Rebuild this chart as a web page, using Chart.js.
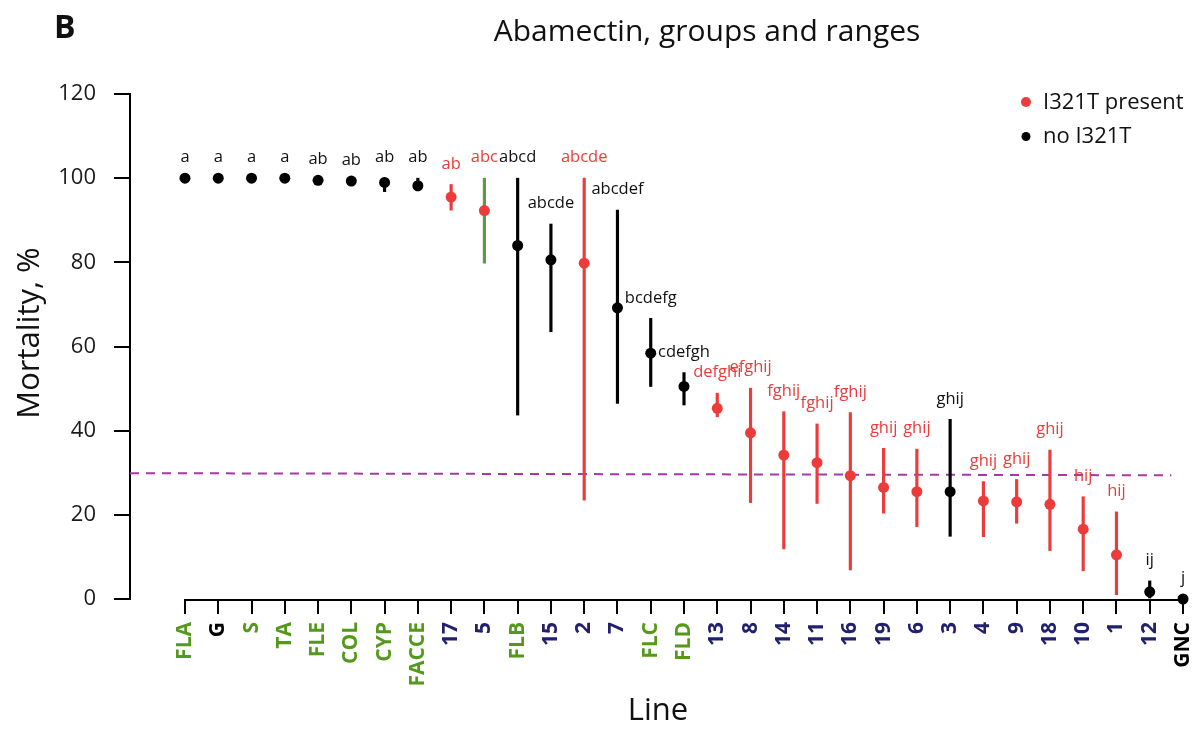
<!DOCTYPE html>
<html>
<head>
<meta charset="utf-8">
<title>Abamectin, groups and ranges</title>
<script src="https://cdn.jsdelivr.net/npm/chart.js@4.4.1/dist/chart.umd.min.js"></script>
<style>
  html, body { margin: 0; padding: 0; background: #fff; }
</style>
</head>
<body>
<canvas id="grafico" width="1194" height="736"></canvas>
<script>
// Linhas testadas, na ordem do eixo X
const categories = ['FLA', 'G', 'S', 'TA', 'FLE', 'COL', 'CYP', 'FACCE', '17', '5', 'FLB', '15', '2', '7',
  'FLC', 'FLD', '13', '8', '14', '11', '16', '19', '6', '3', '4', '9', '18', '10', '1', '12', 'GNC'];

// Mortalidade média (%)
const mortality = [100, 100, 100, 100, 99.5, 99.3, 99.0, 98.2, 95.5, 92.3, 84.0, 80.6, 79.8, 69.2,
  58.4, 50.5, 45.3, 39.5, 34.2, 32.4, 29.3, 26.5, 25.5, 25.5, 23.3, 23.1, 22.5, 16.6, 10.5, 1.7, 0];

// Intervalo (mínimo / máximo); null = sem intervalo
const lower = [null, null, null, null, null, null, 96.8, 97.0, 92.4, 79.8, 43.7, 63.5, 23.5, 46.5,
  50.5, 46.1, 43.3, 22.9, 11.9, 22.7, 6.9, 20.4, 17.2, 14.9, 14.8, 18.0, 11.5, 6.7, 1.0, 0, null];
const upper = [null, null, null, null, null, null, 100, 100, 98.5, 100, 100, 89.1, 100, 92.4,
  66.7, 53.8, 48.9, 50.1, 44.5, 41.6, 44.3, 35.8, 35.6, 42.7, 27.9, 28.4, 35.4, 24.3, 20.7, 4.3, null];

// Presença da mutação I321T (1 = presente)
const i321t = [0, 0, 0, 0, 0, 0, 0, 0, 1, 1, 0, 0, 1, 0, 0, 0, 1, 1, 1, 1, 1, 1, 1, 0, 1, 1, 1, 1, 1, 0, 0];

// Grupos estatísticos
const letters = ['a', 'a', 'a', 'a', 'ab', 'ab', 'ab', 'ab', 'ab', 'abc', 'abcd', 'abcde', 'abcde', 'abcdef',
  'bcdefg', 'cdefgh', 'defghi', 'efghij', 'fghij', 'fghij', 'fghij', 'ghij', 'ghij', 'ghij', 'ghij', 'ghij',
  'ghij', 'hij', 'hij', 'ij', 'j'];

const yTicks = [0, 20, 40, 60, 80, 100, 120];
const cutoff = [29.9, 29.4]; // linha tracejada (início, fim)

const RED = '#ec3b3b';
const FONT = '"Open Sans", "Noto Sans", Arial, sans-serif';

function labelColor(name) {
  if (/^\d+$/.test(name)) return '#20206e';
  if (name === 'G' || name === 'GNC') return '#000000';
  return '#55991c';
}

function rangeColor(i) {
  if (categories[i] === '5') return '#5c9a48';
  return i321t[i] ? RED : '#000000';
}

const idx = categories.map((c, i) => i);
const presentPts = idx.filter(i => i321t[i]).map(i => ({ x: i, y: mortality[i] }));
const absentPts = idx.filter(i => !i321t[i]).map(i => ({ x: i, y: mortality[i] }));
const rangeIdx = idx.filter(i => lower[i] !== null);
const ranges = rangeIdx.map(i => ({ x: i, y: [lower[i], upper[i]] }));

// Plugin: linha de corte, letras, eixo X, títulos e legenda
const decoracao = {
  id: 'decoracao',
  beforeDatasetsDraw(chart) {
    const { ctx, chartArea, scales: { x, y } } = chart;
    ctx.save();
    ctx.strokeStyle = '#a03ca8';
    ctx.lineWidth = 2;
    ctx.setLineDash([9, 7]);
    ctx.beginPath();
    ctx.moveTo(chartArea.left, y.getPixelForValue(cutoff[0]));
    ctx.lineTo(x.getPixelForValue(29.65), y.getPixelForValue(cutoff[1]));
    ctx.stroke();
    ctx.restore();
  },
  afterDatasetsDraw(chart) {
    const { ctx, scales: { x, y } } = chart;
    ctx.save();
    ctx.font = '16.5px ' + FONT;
    ctx.textAlign = 'center';
    ctx.textBaseline = 'middle';
    letters.forEach((txt, i) => {
      const top = upper[i] !== null ? upper[i] : mortality[i];
      ctx.fillStyle = i321t[i] ? RED : '#111111';
      ctx.fillText(txt, x.getPixelForValue(i), y.getPixelForValue(top) - 20.5);
    });
    ctx.restore();
  },
  afterDraw(chart) {
    const { ctx, chartArea, scales: { x } } = chart;
    ctx.save();
    // linha do eixo X (só entre o primeiro e o último tick, estilo R)
    ctx.strokeStyle = '#000';
    ctx.lineWidth = 2;
    ctx.beginPath();
    ctx.moveTo(x.getPixelForValue(0) - 1, chartArea.bottom + 1);
    ctx.lineTo(x.getPixelForValue(categories.length - 1) + 1, chartArea.bottom + 1);
    ctx.stroke();

    ctx.fillStyle = '#111111';
    ctx.textBaseline = 'alphabetic';
    ctx.textAlign = 'center';
    ctx.font = '30px ' + FONT;
    ctx.fillText('Abamectin, groups and ranges', 707, 41);

    ctx.textAlign = 'left';
    ctx.font = 'bold 32px ' + FONT;
    ctx.fillText('B', 54, 38);

    // títulos dos eixos
    ctx.textAlign = 'center';
    ctx.textBaseline = 'middle';
    ctx.font = '31px ' + FONT;
    ctx.fillText('Line', 658, 711);
    ctx.save();
    ctx.translate(30, 333);
    ctx.rotate(-Math.PI / 2);
    ctx.fillText('Mortality, %', 0, 0);
    ctx.restore();

    // legenda
    ctx.font = '22px ' + FONT;
    ctx.textAlign = 'left';
    ctx.fillStyle = RED;
    ctx.beginPath(); ctx.arc(1026, 102, 5, 0, Math.PI * 2); ctx.fill();
    ctx.fillStyle = '#000';
    ctx.beginPath(); ctx.arc(1026, 136.5, 4.5, 0, Math.PI * 2); ctx.fill();
    ctx.fillStyle = '#111111';
    ctx.fillText('I321T present', 1043, 103);
    ctx.fillText('no I321T', 1043, 137);
    ctx.restore();
  }
};

const pontoBase = {
  type: 'scatter',
  pointRadius: 5.5,
  pointHoverRadius: 5.5,
  pointBorderWidth: 0,
  clip: false,
  order: 0
};

new Chart(document.getElementById('grafico'), {
  type: 'scatter',
  data: {
    datasets: [
      Object.assign({ label: 'I321T present', data: presentPts, backgroundColor: RED, borderColor: RED }, pontoBase),
      Object.assign({ label: 'no I321T', data: absentPts, backgroundColor: '#000', borderColor: '#000' }, pontoBase),
      {
        type: 'bar',
        label: 'range',
        data: ranges,
        backgroundColor: rangeIdx.map(rangeColor),
        borderWidth: 0,
        barThickness: 2.5,
        grouped: false,
        clip: false,
        order: 1
      }
    ]
  },
  options: {
    responsive: false,
    devicePixelRatio: 1,
    animation: false,
    events: [],
    layout: { padding: { top: 94, right: 11, bottom: 0, left: 0 } },
    plugins: {
      legend: { display: false },
      tooltip: { enabled: false }
    },
    scales: {
      x: {
        type: 'linear',
        offset: false,
        min: -1.653,
        max: categories.length - 1,
        afterBuildTicks: s => { s.ticks = idx.map(i => ({ value: i })); },
        afterFit: s => { s.height = 137; s.paddingLeft = 0; s.paddingRight = 0; },
        border: { display: false },
        grid: { offset: false, drawOnChartArea: false, drawTicks: true, tickLength: 15, color: '#000', lineWidth: 2 },
        ticks: {
          autoSkip: false,
          minRotation: 90,
          maxRotation: 90,
          padding: 8,
          callback: v => categories[v],
          color: c => labelColor(categories[c.tick.value]),
          font: { family: FONT, size: 21, weight: 'bold' }
        }
      },
      y: {
        min: 0,
        max: 120,
        beginAtZero: true,
        afterBuildTicks: s => { s.ticks = yTicks.map(v => ({ value: v })); },
        afterFit: s => { s.width = 130; },
        border: { display: true, color: '#000', width: 2 },
        grid: { drawOnChartArea: false, drawTicks: true, tickLength: 16, color: '#000', lineWidth: 2 },
        ticks: {
          padding: 18,
          color: '#1a1a1a',
          font: { family: FONT, size: 22 }
        }
      }
    }
  },
  plugins: [decoracao]
});
</script>
</body>
</html>
